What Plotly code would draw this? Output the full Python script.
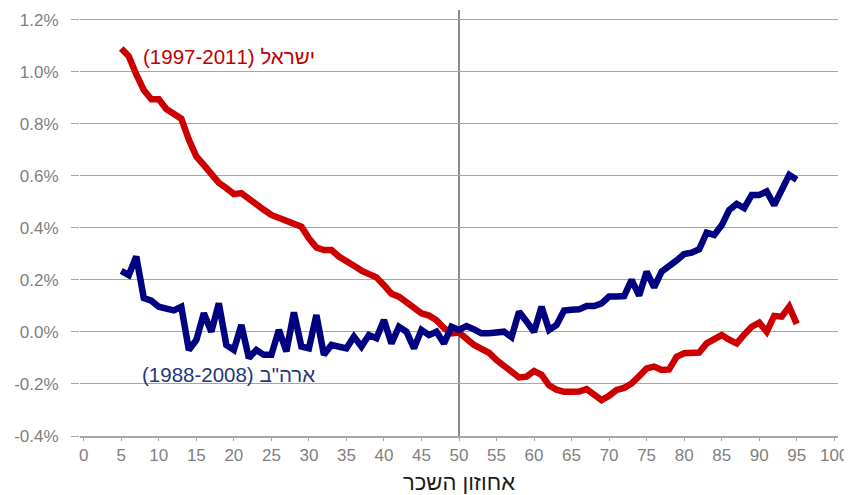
import plotly.graph_objects as go

percentiles = list(range(5, 96))

israel = [1.09, 1.06, 0.99, 0.93, 0.895, 0.895, 0.857, 0.842, 0.82, 0.74,
          0.675, 0.642, 0.61, 0.573, 0.553, 0.53, 0.534, 0.51, 0.492, 0.47,
          0.45, 0.438, 0.424, 0.415, 0.405, 0.36, 0.325, 0.315, 0.315, 0.29,
          0.275, 0.255, 0.236, 0.222, 0.21, 0.18, 0.147, 0.136, 0.115, 0.09,
          0.072, 0.063, 0.045, 0.015, -0.005, -0.002, -0.03, -0.05, -0.065, -0.08,
          -0.108, -0.13, -0.155, -0.175, -0.172, -0.15, -0.165, -0.205, -0.222, -0.23,
          -0.23, -0.229, -0.22, -0.24, -0.262, -0.245, -0.223, -0.215, -0.198, -0.17,
          -0.14, -0.133, -0.146, -0.144, -0.095, -0.082, -0.079, -0.079, -0.044, -0.03,
          -0.012, -0.03, -0.044, -0.01, 0.02, 0.036, 0.001, 0.062, 0.059, 0.097,
          0.031]

usa = [0.235, 0.219, 0.29, 0.13, 0.12, 0.097, 0.09, 0.083, 0.097, -0.069,
       -0.031, 0.072, 0.001, 0.11, -0.05, -0.069, 0.027, -0.10, -0.069, -0.088,
       -0.088, 0.008, -0.075, 0.075, -0.056, -0.063, 0.065, -0.088, -0.05, -0.055,
       -0.063, -0.018, -0.056, -0.012, -0.024, 0.046, -0.044, 0.02, 0.001, -0.063,
       0.008, -0.012, 0.001, -0.044, 0.02, 0.008, 0.023, 0.01, -0.005, -0.005,
       -0.002, 0.001, -0.02, 0.078, 0.04, 0.001, 0.097, 0.008, 0.027, 0.082,
       0.085, 0.087, 0.1, 0.1, 0.11, 0.136, 0.136, 0.138, 0.2, 0.14,
       0.232, 0.172, 0.232, 0.251, 0.275, 0.3, 0.305, 0.318, 0.382, 0.373,
       0.41, 0.469, 0.492, 0.476, 0.527, 0.527, 0.54, 0.488, 0.546, 0.604,
       0.585]

y_ticks = [-0.4, -0.2, 0.0, 0.2, 0.4, 0.6, 0.8, 1.0, 1.2]
y_tick_labels = ["-0.4%", "-0.2%", "0.0%", "0.2%", "0.4%", "0.6%", "0.8%", "1.0%", "1.2%"]
x_ticks = list(range(0, 101, 5))
x_tick_labels = [str(v) for v in x_ticks]

israel_label = "(1997-2011) ישראל"
usa_label = "(1988-2008) ארה\"ב"
x_title = "אחוזון השכר"

FONT = "Liberation Sans, Arial, sans-serif"
RED = "#CC0000"
NAVY = "#000080"
GRID = "#A6A6A6"
TICK = "#808080"

fig = go.Figure()
fig.add_trace(go.Scatter(x=percentiles, y=israel, mode="lines",
                         line=dict(color=RED, width=6.5), showlegend=False, hoverinfo="skip"))
fig.add_trace(go.Scatter(x=percentiles, y=usa, mode="lines",
                         line=dict(color=NAVY, width=6.5), showlegend=False, hoverinfo="skip"))

fig.add_shape(type="line", xref="x", yref="paper", x0=50, x1=50, y0=-0.005, y1=1,
              line=dict(color="#8C8C8C", width=2), layer="below")

fig.add_annotation(x=19.3, y=1.058, text=israel_label, showarrow=False,
                   font=dict(family=FONT, size=20.5, color="#C00000"), xanchor="center", yanchor="middle")
fig.add_annotation(x=19.3, y=-0.162, text=usa_label, showarrow=False,
                   font=dict(family=FONT, size=20.5, color="#1F3A78"), xanchor="center", yanchor="middle")

# page body adds an 8px offset, so the figure is sized to fit the window
fig.update_layout(
    width=844, height=487,
    margin=dict(l=72, r=14, t=2, b=59),
    paper_bgcolor="white", plot_bgcolor="white",
    font=dict(family=FONT, color=TICK),
    xaxis=dict(range=[-0.5, 100.5], tickvals=x_ticks, ticktext=x_tick_labels, automargin=False,
               showgrid=False, zeroline=False, showline=True, linecolor=GRID, linewidth=1.5,
               ticks="outside", ticklen=3, tickcolor=GRID,
               tickfont=dict(family=FONT, size=17, color=TICK),
               title=dict(text=x_title, font=dict(family=FONT, size=22, color="#1A1A1A"), standoff=11)),
    yaxis=dict(range=[-0.4, 1.238], tickvals=y_ticks, ticktext=y_tick_labels, automargin=False,
               showgrid=True, gridcolor=GRID, gridwidth=1.3, zeroline=False, showline=False,
               ticks="outside", ticklen=8, tickcolor=GRID, ticklabelstandoff=9,
               tickfont=dict(family=FONT, size=17, color=TICK)),
)

fig.write_html("out.html")
